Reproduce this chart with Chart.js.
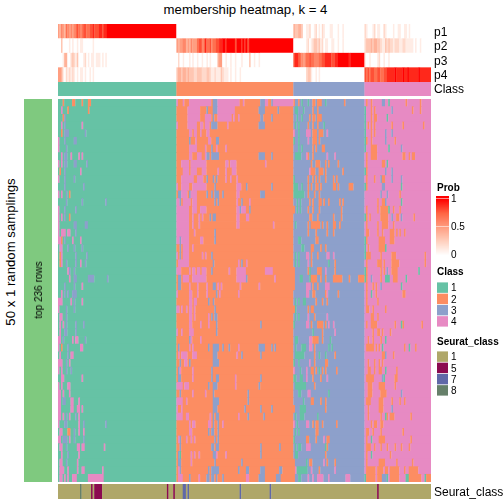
<!DOCTYPE html>
<html>
<head>
<meta charset="utf-8">
<script src="https://cdn.jsdelivr.net/npm/chart.js@4"></script>
<style>
html,body{margin:0;padding:0;background:#fff;width:504px;height:504px;overflow:hidden}
canvas{position:absolute}
.t{position:absolute;white-space:nowrap;line-height:1;color:#000;font-family:"Liberation Sans",Arial,sans-serif}
</style>
</head>
<body>
<script>
const titleText = "membership heatmap, k = 4";
const probLabels = ["p1","p2","p3","p4"];
const classLabels = ["1","2","3","4"];
const seuratLabels = ["1","5","7","8"];
const sectionSizes = [75,74,45,42];

// membership probabilities in tenths (a = 1), per class section; the last digit repeats to the end of a section
const p1Tenths = ["5465476565678767887788988899899a","0","4334430011200120102100011000100100000000","2100012011002100001001100110100"];
const p2Tenths = ["0030000101001011000000100","54556645465557886797786778899aa9aaaaa8aaa9a9a8aaaaaa","0000000012012332312011001100100100000000","2333434433211323221222112211111010010000"];
const p3Tenths = ["00014400232130001201011011101010","0200100010100100100101000045500100100100010000300100100","8998765677877666778899998899aaaaaaa9aaaaa","1001000012001001000"];
const p4Tenths = ["554102121210101101001010","3443443433322333222332112111321110100100100","0000000023310010100","8787887788778899999a9999a99a999999a9"];

// one string per sampling row, four sections separated by |. Each token = start column, class letter, run length.
const memberRows = [
"3o 9o2 15o 19o2|0p 4p 8p14 23b3 26p13 39p 42p 53b3 56p2 60b 61p13|0o 3o 5g 9g 12o2 15o3 20g 32o|1o 4o 11b2 15g 26o 35o",
"2p 6o 19o|7p8 19b 23b3 26p11 52b4 64b|1g2 6g 12o 15o|0g 4o 6o 17b 30o 35o",
"3o 4b|7p8 18p4 23b 26p8 34p 36p 39p 53b 54b 60b|2g 5g 10o 12o2 15o3|0g 4o 6o2 14g",
"2p 4b 15p|0p 7p6 15p2 18p3 22b4 32p 52b3 55b|1g 3g 9o 12o 15o 19g|0g 2o 4o 6o 17o 24o 37o",
"2o 4b3 17b|8p2 11p2 15p 19p2|0p 3g 8p3 12o3 16o3 21p|0g 4o 6o 13b 17b",
"0p 4b 10b2|8b 12p 20p2 25b 26b|0g 3g 9p 12o3 16o|0g 1o 4o 13b 19o",
"0p 5b|8p5 18p 22b 25p 31p|3g 5g 12o 14o 18o 19o|0g 4o4 15g 23b",
"2p 4b 5b 8p 13p 15p|8p2 13p3 18p 19b2 22b5 52b 53b 54b2 60b|1g4 8p 9o 12o 21p 26p|1o 4o3 7o 24o2 28o 30o2",
"0p 2p 4b2 10b2 18b|3p5 9p10 31p2 34p4 56p|11o 14o3 20o 22o 28o|1o 11o2 14g",
"1o 4b 14p|4p4 9p4 16p3 26p 31p 35p3|10p 11o2 13o 16o3 20o 31o|0g 1o 13b 17b",
"0p 4b 10b|3p8 13p4 19b 23b 25b 31p 34p 38p|0g 9o 12o 14o 16o 20o 25o 27o|1o 6o 10b 11o2 17b 23b",
"4b 16b|0p 3p5 10p9 24b 38p2 40p 44b 60b|0g3 5g 9o 11o 14o2 17o 25o2 28o 35o3|0g2 1o 11b2 23g",
"0p 2p 5b 7o|1b 2b 3p4 8b 9p4 19b 22b 24b3 29b 38p2 53b3|0g7 9o 13o 16o|10b 14b 22o",
"5b 15b 30b|0p3 2b 4p5 10p3 24b 26b 38p 41b 46p|2g 4g 10o 12o 16o2 19o 22o 29o 31o|8o 11o2 13b 23g",
"0p 4b 11b|0p8 10p3 15p4 38p2 40b 41p3 46b|0o 2g 4g 9o 12o 16o 30o|1o 8o 10o5 15g 18o 22o",
"0p 2p 4b 7o|0p8 10p 14p 16p 21b 23b2 38p2 44p2|10o 11o 15o 25o 30o|0g 1o 3o 10o5 17b 20o2 23b 31o",
"0p 10b2 17b2|0p8 10p 14p 38p2 61p|1g 9o 11o5 16o 18o 21o 25o2 29o|1o 8o 11o4 18o",
"0p 2p2 4p 6p2 11b|0p8 11p 24b|9o 14o 21o 25o|1o2 8o 11o 16o3 20o 22o 25o",
"0p2 2o 4b 9p 14p|0p2 2b 3p5 15p 16p 24b|3g2 14o2|0g 1o 9o4 16o3",
"1p2 6b 10b 15b|2b 4p4 10p|5g2 11o2 17o 20o|0g 2o 9o4 13g",
"1o 2p 11b 18b|0p 2b 4p4 16p 18p 22b|1g 3g 8p2 11o 15o 21p2 25p|0g 1o3 10o 17o3 38o",
"1o 2p 5b 11b 14p 17b|1p7 23b 39p 41b 44p|1g 3g 9p 11o 22g 26o|1o 8o3 12o 17o5 38o",
"6p2 7b 10b|0p3 8p 10p2 13p2 16p3 22b 33p 38p2 40p4 56p5|0o 9o 10g 15o3 20p 26o|0g 1o 10o 12o 14b 17o4 34g",
"7p 10b2 19b4 31b|1b 2b 4p4 10p3 13p6 38p2 40p4 44b 62p|0o 4g2 10g 11o4 17o 20o 25o6 35o 41o5|0g 1o 4b 10o 13g3 18o3 26g",
"4b 10b 15p|1b 2b 8p 13p 19p 23b2 26p 28p 40p 52p|0o 8p3 12o 15o 20p 21p2|1o 5o 7o 10b 23g",
"2p 4b 6b 9b3|0p 8p2 13p 19p 25b 27p 39p|8p2 12o2 20o 21p 28o|1o 4g 7o 24o2",
"0p3 8p 10b 15p|8p2 11p2 20b 23b|1g 3g 6g2 14o 18o 21o|1o 8o",
"0p 5b 10b|0p 1p 3p 6p 8p2 11p 24b|0o 1g 9o 11o2|1o2 5o 13o",
"1p2 5b|8p2 11p 20p 22b 24b2|1g 3g 9p 13o 21p|4o2 8o",
"1p 3p 5b 11b 16b|8p2 15p 20p 25b 53b|0g 8p2 11o 15o4 20o 22p 25p|1o 4o4 19o 23g 24o 36o",
"1p 4b2 11b|0p 3p 8p3 25b|12g 18o 26p|5o 8o2 11o 16o",
"0p 1p 3b 9p 11p2 17b|8b 9p 15p|1g 2g 10p2 12o4 18o 23g|2o 5o 10o 13g",
"0p 2o 6b 14p2|1b 8p 10p 20b 23b4 29b 33b 39p 52b4 60b 62b|1g 5g3 10p2 13o 22g 24g|1o5 7o 9o 11g 25o 28g 32o",
"1p 6b 8p 9p|1p 3p4 10p2 12p 23b 24b2 38p 41b 53b|1g3 4g3 13o 16g 20g 26o|11o2 13b 18o",
"0p3 5b 7p|2b 5p2 8b 23b4|0g 3g 10p 13o 20o 21o|2o 6o 9o 11o",
"0p 2p 5b 8b|1b 2p 10p 22b|0p 4g 8p 11o2 14o 16g 18o 20o 27o|2o2 6o 9o2 13g 20o",
"2p2 15p|1b 2b 10p 22b 25b2 37p 53b|0g2 4g2 8p 12o 17o 21p|1o5 11b 12g 19o2",
"0p 2p 6p2|0p4 5p3 20b 23b 24b2 37p 52b|1g7 13o|2o3 9o4 19o",
"0p2 3p 7p|2b 10p 18p 23b 45b|3g2 9p2 22g|2o3 10o4 23b",
"0p2 3b2 8p2 13p|0p 1p3 6p 23b 24b3 45b|6g 11o2 17o 20o|1o3 9o3 17o 22o 25o",
"0p2 8p2 12p2 15p|0p 3p 23b 24b 25b 43b 53b 60b|0o 4g4 20o|2o 9o3 17b",
"0p2 3p 5b 7p 11b 13p|0p4 6p2 21p 23b 25b2 39p 45b 55b|1g 4g3 15g|2o 10o 13g 14o 16o3 29o",
"0p 4b2 13p 16b 30b|8p 10p2 20p2 23b 26b 29p|0p 2g 8p2 12o 14o2 18o 27o|4o 6o2 10o2",
"1p2 6o2 10b 13p 16p|8p2 20b 22b2 26b|1g 3g 14o 15o|1o2 5o 10o 24o",
"0p2 3b3 7p 10b 16b|1p 2b 6p 9p 11p 24b 26b|0g 8o2 14o 19p 21o2|1o 4g 9o4 29o",
"1p2 5b 12p2 15p2 29p|2b 22b2 25b2 53b 65b|1g 3g2 8p3 20g 21o|1o3 6o 10o 14o 19o 23o 28o",
"2p 6b 13p|1b 2g 9p 11p 14p 23b2 25p 31p 53b|1g2 20o|1o 4g 16o",
"1p 2p 5b 12p|1b 2b 9p 24b 41b|0o 8g 10o2 19p 21o 26o|1o 9o4 20o 30o",
"1p3 6p 12p 15p 16p 28p|1p 2b 20b 22b5 39b 44b2 53b3 65b2|0o 1p 2g7 11p 16o 26p|1o6 8o4 13o2 16o6 25o 28o6",
"1p 2p 4p 6p 9p 10p2 19p10|1p3 8b 14p 19b2 22b2 25b 29b 44p2 52b 53b3 63b3|0o 3g2 9p 12p 15p3 18p 22p 33p3|0g 1o6 8o3 11b3 14g 16o6 26g2 28o8 38g 39o3"
];

// Seurat_class exceptions: [first column, length, class]; every other column is class 1
const seuratExceptions = [[14,1,"8"],[21,1,"5"],[23,2,"5"],[25,3,"5"],[69,1,"5"],[73,1,"5"],[79,2,"7"],[82,1,"7"],[115,1,"7"],[134,1,"7"],[202,1,"5"]];

const classColors = {g:"#66C2A5",o:"#FC8D62",b:"#8DA0CB",p:"#E78AC3"};
const sectionLetters = ["g","o","b","p"];
const seuratColors = {"1":"#AFA769","5":"#8B0A50","7":"#6068A8","8":"#66806A"};
const samplingColor = "#7FC97F";
const FONT = '"Liberation Sans", Arial, sans-serif';
const nCols = sectionSizes.reduce((a,b)=>a+b,0);

function rampColor(t){
  const stops=[[0,255,255,255],[.25,255,208,190],[.5,255,158,129],[.75,255,100,68],[1,255,0,0]];
  t=Math.min(1,Math.max(0,t));
  for(let i=1;i<stops.length;i++){
    if(t<=stops[i][0]){
      const a=stops[i-1],b=stops[i],f=(t-a[0])/(b[0]-a[0]);
      return `rgb(${Math.round(a[1]+(b[1]-a[1])*f)},${Math.round(a[2]+(b[2]-a[2])*f)},${Math.round(a[3]+(b[3]-a[3])*f)})`;
    }
  }
  return "rgb(255,0,0)";
}

function panel(rect, labels, rows, colorOf, axisWidth, showAxis, fontSize, maxX){
  const c=document.createElement("canvas");
  c.width=rect.w;c.height=rect.h;
  c.style.left=rect.x+"px";c.style.top=rect.y+"px";
  document.body.appendChild(c);
  const data=[],colors=[];
  rows.forEach((cells,r)=>{
    let s=0;
    for(let i=1;i<=cells.length;i++){
      if(i===cells.length||cells[i]!==cells[s]){
        data.push({x:[s,i],y:labels[r]});
        colors.push(colorOf(cells[s]));
        s=i;
      }
    }
  });
  return new Chart(c,{
    type:"bar",
    data:{labels:labels,datasets:[{data:data,backgroundColor:colors,borderWidth:0,barPercentage:rect.bar||1,categoryPercentage:1,grouped:false,inflateAmount:rect.bar&&rect.bar<1?0:0.15}]},
    options:{
      indexAxis:"y",responsive:false,animation:false,devicePixelRatio:1,
      layout:{padding:{top:0,left:0,right:0,bottom:rect.padBottom||0}},
      plugins:{legend:{display:false},tooltip:{enabled:false},title:{display:false}},
      scales:{
        x:{type:"linear",display:false,min:0,max:maxX},
        y:{type:"category",position:"right",display:showAxis,
           border:{display:false},grid:{display:false,drawTicks:false},
           ticks:{color:"#000",padding:3,labelOffset:1,autoSkip:false,maxRotation:0,font:{family:FONT,size:fontSize}},
           afterFit:s=>{s.width=axisWidth;s.paddingTop=0;s.paddingBottom=0;s.paddingLeft=0;s.paddingRight=0;}}
      }
    }
  });
}

function expand(strs){
  let out=[];
  strs.forEach((s,i)=>{
    const a=s.split("");const last=a[a.length-1];
    for(let k=0;k<sectionSizes[i];k++) out.push(k<a.length?a[k]:last);
  });
  return out;
}
const tenth=ch=>ch==="a"?1:Number(ch)/10;

// top probability heatmap
panel({x:58,y:24,w:446,h:58},probLabels,[p1Tenths,p2Tenths,p3Tenths,p4Tenths].map(expand),ch=>rampColor(tenth(ch)),73,true,12,nCols);

// class strip
const classCells=[];
sectionLetters.forEach((l,i)=>{for(let k=0;k<sectionSizes[i];k++)classCells.push(l);});
panel({x:58,y:82,w:446,h:14},["Class"],[classCells],l=>classColors[l],73,true,12,nCols);

// membership matrix
const matrix=memberRows.map(row=>{
  const cells=classCells.slice();
  let off=0;
  row.split("|").forEach((sec,i)=>{
    sec.trim().split(/\s+/).forEach(tok=>{
      const m=tok.match(/^(\d+)([gobp])(\d*)$/);
      if(!m)return;
      const st=+m[1],len=m[3]?+m[3]:1;
      for(let k=0;k<len;k++){const col=off+st+k;if(col<nCols)cells[col]=m[2];}
    });
    off+=sectionSizes[i];
  });
  return cells;
});
panel({x:58,y:99,w:373,h:383,bar:1.06},memberRows.map((_,i)=>"r"+i),matrix,l=>classColors[l],0,false,10,nCols);

// seurat strip
const seuratCells=new Array(nCols).fill("1");
seuratExceptions.forEach(e=>{for(let k=0;k<e[1];k++)seuratCells[e[0]+k]=e[2];});
panel({x:58,y:484,w:446,h:19,padBottom:4},["Seurat_class"],[seuratCells],l=>seuratColors[l],73,true,12,nCols);

// left sampling bar
panel({x:24,y:99,w:28,h:383},["samplings"],[["s"]],()=>samplingColor,0,false,10,1);

// class legends
const legendRows=labels=>labels.map(l=>[l]);
panel({x:437,y:282,w:67,h:45,bar:.93},classLabels,legendRows(classLabels),l=>classColors[sectionLetters[classLabels.indexOf(l)]],56,true,10,1);
panel({x:437,y:351,w:67,h:45,bar:.93},seuratLabels,legendRows(seuratLabels),l=>seuratColors[l],56,true,10,1);

// probability colour bar
const probTicks=[0,0.5,1];
(function(){
  const c=document.createElement("canvas");
  c.width=68;c.height=70;c.style.left="436px";c.style.top="192px";
  document.body.appendChild(c);
  const data=[],colors=[];
  for(let i=0;i<59;i++){const a=i/59*1.05,b=(i+1)/59*1.05;data.push({x:[0,1],y:(a+b)/2});colors.push(rampColor((a+b)/2));}
  new Chart(c,{
    type:"bar",
    data:{datasets:[{data:data,backgroundColor:colors,borderWidth:0,barPercentage:1,categoryPercentage:1}]},
    options:{
      indexAxis:"y",responsive:false,animation:false,devicePixelRatio:1,
      layout:{padding:{top:4,bottom:7}},
      plugins:{legend:{display:false},tooltip:{enabled:false}},
      scales:{
        x:{type:"linear",display:false,min:0,max:1},
        y:{type:"linear",position:"right",min:0,max:1.05,offset:false,
           border:{display:false},
           grid:{color:"rgba(255,255,255,.55)",z:1,drawTicks:false,offset:false},
           afterBuildTicks:s=>{s.ticks=probTicks.map(v=>({value:v}));},
           ticks:{color:"#000",padding:2,font:{family:FONT,size:10},callback:v=>String(v)},
           afterFit:s=>{s.width=55;s.paddingTop=0;s.paddingBottom=0;s.paddingLeft=0;s.paddingRight=0;}}
      }
    }
  });
})();

// remaining text
function text(str,cx,cy,size,opts){
  opts=opts||{};
  const d=document.createElement("div");
  d.className="t";d.textContent=str;
  d.style.fontSize=size+"px";
  if(opts.bold)d.style.fontWeight="bold";
  d.style.left=cx+"px";d.style.top=cy+"px";
  d.style.transform=opts.left?"translate(0,-50%)":(opts.rot?"translate(-50%,-50%) rotate(-90deg)":"translate(-50%,-50%)");
  document.body.appendChild(d);
}
text(titleText,245.5,10,13.2);
text("50 x 1 random samplings",11,252,13.2,{rot:true});
text("top 236 rows",38.5,290,10,{rot:true});
text("Prob",437,188,10,{bold:true,left:true});
text("Class",437,272,10,{bold:true,left:true});
text("Seurat_class",437,342,10,{bold:true,left:true});
</script>
</body>
</html>
